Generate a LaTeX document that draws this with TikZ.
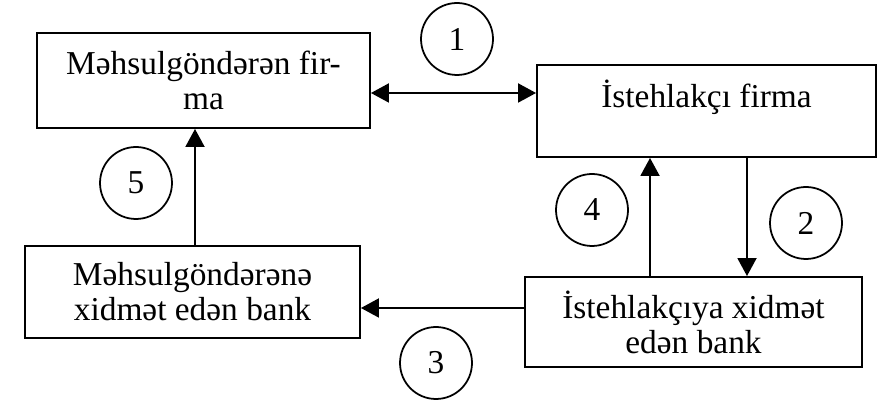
\documentclass[tikz,border=0pt]{standalone}
\usepackage{fontspec}
\setmainfont{Liberation Serif}
\usetikzlibrary{arrows.meta}
\begin{document}
\begin{tikzpicture}[x=0.02cm, y=-0.02cm]

      \tikzset{box/.style={draw, rectangle, line width=1.1pt, align=center, inner sep=0pt, font=\fontsize{19}{20}\selectfont},
               num/.style={draw, circle, line width=1pt, minimum size=1.44cm, inner sep=0pt, font=\fontsize{19}{20}\selectfont},
               link/.style={line width=1.1pt, -{Triangle[length=0.36cm, width=0.38cm]}}}
      \useasboundingbox (0,0) rectangle (879,404);
%% Boxes
      	\node[box, minimum width=6.66cm, minimum height=1.9cm] (mfirm) at (203.5,80.5) {Məhsulgöndərən fir-\\ma};
      	\node[box, minimum width=6.78cm, minimum height=1.84cm] (cfirm) at (706.5,111) {İstehlakçı firma\\\phantom{x}};
    	\node[box, minimum width=6.7cm, minimum height=1.84cm] (mbank) at (192.5,292) {Məhsulgöndərənə\\xidmət edən bank};
  	    \node[box, minimum width=6.74cm, minimum height=1.8cm] (cbank) at (693.5,322) {İstehlakçıya xidmət\\edən bank};
%% Numbers
     	\node[num] (n1) at (457,39) {1};
     	\node[num] (n2) at (806,223) {2};
     	\node[num] (n3) at (436,363) {3};
     	\node[num] (n4) at (592,210) {4};
     	\node[num] (n5) at (136,183) {5};
%Arrows
		\draw[link, {Triangle[length=0.36cm, width=0.38cm]}-{Triangle[length=0.36cm, width=0.38cm]}] ([yshift=-0.25cm]mfirm.east) coordinate (p1) -- (p1 -| cfirm.west);
		\coordinate (up4) at ([xshift=-1.13cm]cfirm.south);
		\draw[link] (up4 |- cbank.north) -- (up4);
		\coordinate (dn2) at ([xshift=0.81cm]cfirm.south);
		\draw[link] (dn2) -- (dn2 |- cbank.north);
		\draw[link] ([yshift=0.28cm]cbank.west) coordinate (p3) -- (p3 -| mbank.east);
		\coordinate (up5) at ([xshift=0.05cm]mbank.north);
		\draw[link] (up5) -- (up5 |- mfirm.south);

	\end{tikzpicture}
\end{document}
